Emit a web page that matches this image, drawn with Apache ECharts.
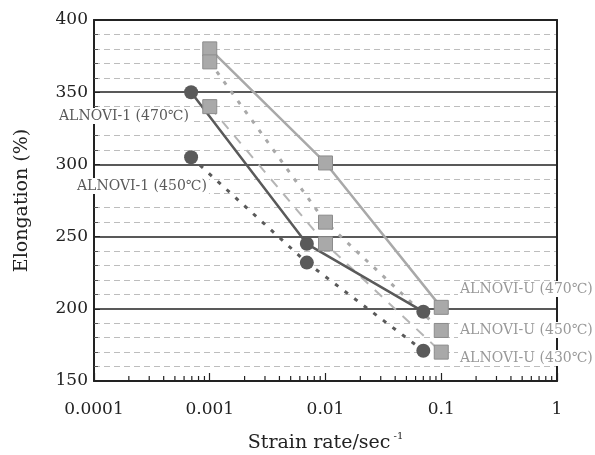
<!DOCTYPE html>
<html>
<head>
<meta charset="utf-8">
<script src="https://cdn.jsdelivr.net/npm/echarts@6/dist/echarts.min.js"></script>
<style>
html, body { margin: 0; padding: 0; background: #fff; }
#main { width: 595px; height: 455px; }
</style>
</head>
<body>
<div id="main"></div>
<script>
// strain rates (sec^-1)
const rateAlnovi1 = [0.00069, 0.0069, 0.070];
const rateAlnoviU = [0.001, 0.01, 0.1];
// elongation (%)
const elongA470 = [350, 245, 198];
const elongA450 = [305, 232, 171];
const elongU470 = [380, 301, 201];
const elongU450 = [371, 260, 185];
const elongU430 = [340, 245, 170];
const xTickLabels = ['0.0001', '0.001', '0.01', '0.1', '1'];
const decades = [0.0001, 0.001, 0.01, 0.1];

const minorRates = [];
decades.forEach(function (d) {
    for (let m = 2; m <= 9; m++) minorRates.push(+(m * d).toPrecision(3));
});

const FONT = '"DejaVu Serif", "Liberation Serif", serif';
const DARK = '#5a5a5a';
const LIGHT = '#a9a9a9';

function pairs(xs, ys) {
    return xs.map(function (x, i) { return [x, ys[i]]; });
}

const chart = echarts.init(document.getElementById('main'));

function lineSeries(name, xs, ys, color, lineType, symbol, width) {
    return {
        name: name,
        type: 'line',
        data: pairs(xs, ys),
        symbol: symbol,
        symbolSize: 14,
        itemStyle: symbol === 'rect'
            ? { color: LIGHT, borderColor: '#8c8c8c', borderWidth: 1 }
            : { color: DARK },
        lineStyle: { color: color, type: lineType, width: width, cap: 'butt' },
        z: 3
    };
}

chart.setOption({
    animation: false,
    backgroundColor: '#fff',
    grid: { left: 94, right: 38, top: 20, bottom: 74, outerBoundsMode: 'none' },
    xAxis: [{
        type: 'log',
        logBase: 10,
        min: 0.0001,
        max: 1,
        name: '{a|Strain rate/sec}{b|-1}',
        nameLocation: 'middle',
        nameGap: 50,
        nameTextStyle: {
            rich: {
                a: { fontFamily: FONT, fontSize: 19, color: '#222', lineHeight: 24 },
                b: { fontFamily: FONT, fontSize: 10, color: '#222', verticalAlign: 'top', padding: [0, 0, 0, 3] }
            }
        },
        axisLine: { lineStyle: { color: '#222', width: 2 } },
        axisTick: { inside: true, length: 8, lineStyle: { color: '#222', width: 1.2 } },
        axisLabel: {
            fontFamily: FONT, fontSize: 17, color: '#222', margin: 20,
            formatter: function (v) { return xTickLabels[Math.round(Math.log10(v)) + 4]; }
        },
        splitLine: { show: false }
    }, {
        type: 'log',
        logBase: 10,
        min: 0.0001,
        max: 1,
        position: 'top',
        axisLine: { lineStyle: { color: '#222', width: 2 } },
        axisTick: { show: false },
        axisLabel: { show: false },
        splitLine: { show: false }
    }],
    yAxis: [{
        type: 'value',
        min: 150,
        max: 400,
        interval: 50,
        name: 'Elongation (%)',
        nameLocation: 'middle',
        nameGap: 62,
        nameTextStyle: { fontFamily: FONT, fontSize: 19, color: '#222' },
        axisLine: { show: true, lineStyle: { color: '#222', width: 2 } },
        axisTick: { show: true, inside: true, length: 6, lineStyle: { color: '#222' } },
        minorTick: { show: true, splitNumber: 5, length: 4, lineStyle: { color: '#555' } },
        axisLabel: { fontFamily: FONT, fontSize: 17, color: '#222', margin: 6 },
        splitLine: { show: true, lineStyle: { color: '#222', width: 1.5 } },
        minorSplitLine: { show: true, lineStyle: { color: '#bdbdbd', type: [6, 4], width: 1 } }
    }, {
        type: 'value',
        min: 150,
        max: 400,
        interval: 50,
        position: 'right',
        axisLine: { show: true, lineStyle: { color: '#222', width: 2 } },
        axisTick: { show: false },
        axisLabel: { show: false },
        splitLine: { show: false }
    }],
    series: [
        lineSeries('ALNOVI-U (470℃)', rateAlnoviU, elongU470, LIGHT, 'solid', 'rect', 2.5),
        lineSeries('ALNOVI-U (450℃)', rateAlnoviU, elongU450, LIGHT, [4, 8], 'rect', 3),
        lineSeries('ALNOVI-U (430℃)', rateAlnoviU, elongU430, '#b5b5b5', [10, 9], 'rect', 2),
        lineSeries('ALNOVI-1 (470℃)', rateAlnovi1, elongA470, DARK, 'solid', 'circle', 2.5),
        lineSeries('ALNOVI-1 (450℃)', rateAlnovi1, elongA450, DARK, [4, 8], 'circle', 3),
        {
            type: 'custom',
            silent: true,
            data: minorRates.map(function (v) { return [v]; }),
            renderItem: function (params, api) {
                const p = api.coord([api.value(0), 150]);
                return {
                    type: 'line',
                    shape: { x1: p[0], y1: p[1], x2: p[0], y2: p[1] - 5 },
                    style: { stroke: '#222', lineWidth: 1.2 }
                };
            },
            z: 4
        }
    ],
    graphic: [
        { type: 'text', left: 57, top: 108, z: 100,
          style: { text: 'ALNOVI-1 (470℃)', font: '14px ' + FONT, fill: DARK, backgroundColor: '#fff', padding: [1, 2] } },
        { type: 'text', left: 75, top: 178, z: 100,
          style: { text: 'ALNOVI-1 (450℃)', font: '14px ' + FONT, fill: DARK, backgroundColor: '#fff', padding: [1, 2] } },
        { type: 'text', left: 458, top: 281, z: 100,
          style: { text: 'ALNOVI-U (470℃)', font: '14px ' + FONT, fill: '#999', backgroundColor: '#fff', padding: [1, 2] } },
        { type: 'text', left: 458, top: 322, z: 100,
          style: { text: 'ALNOVI-U (450℃)', font: '14px ' + FONT, fill: '#999', backgroundColor: '#fff', padding: [1, 2] } },
        { type: 'text', left: 458, top: 350, z: 100,
          style: { text: 'ALNOVI-U (430℃)', font: '14px ' + FONT, fill: '#999', backgroundColor: '#fff', padding: [1, 2] } }
    ]
});

window.addEventListener('resize', function () {
    chart.resize();
});
</script>
</body>
</html>
